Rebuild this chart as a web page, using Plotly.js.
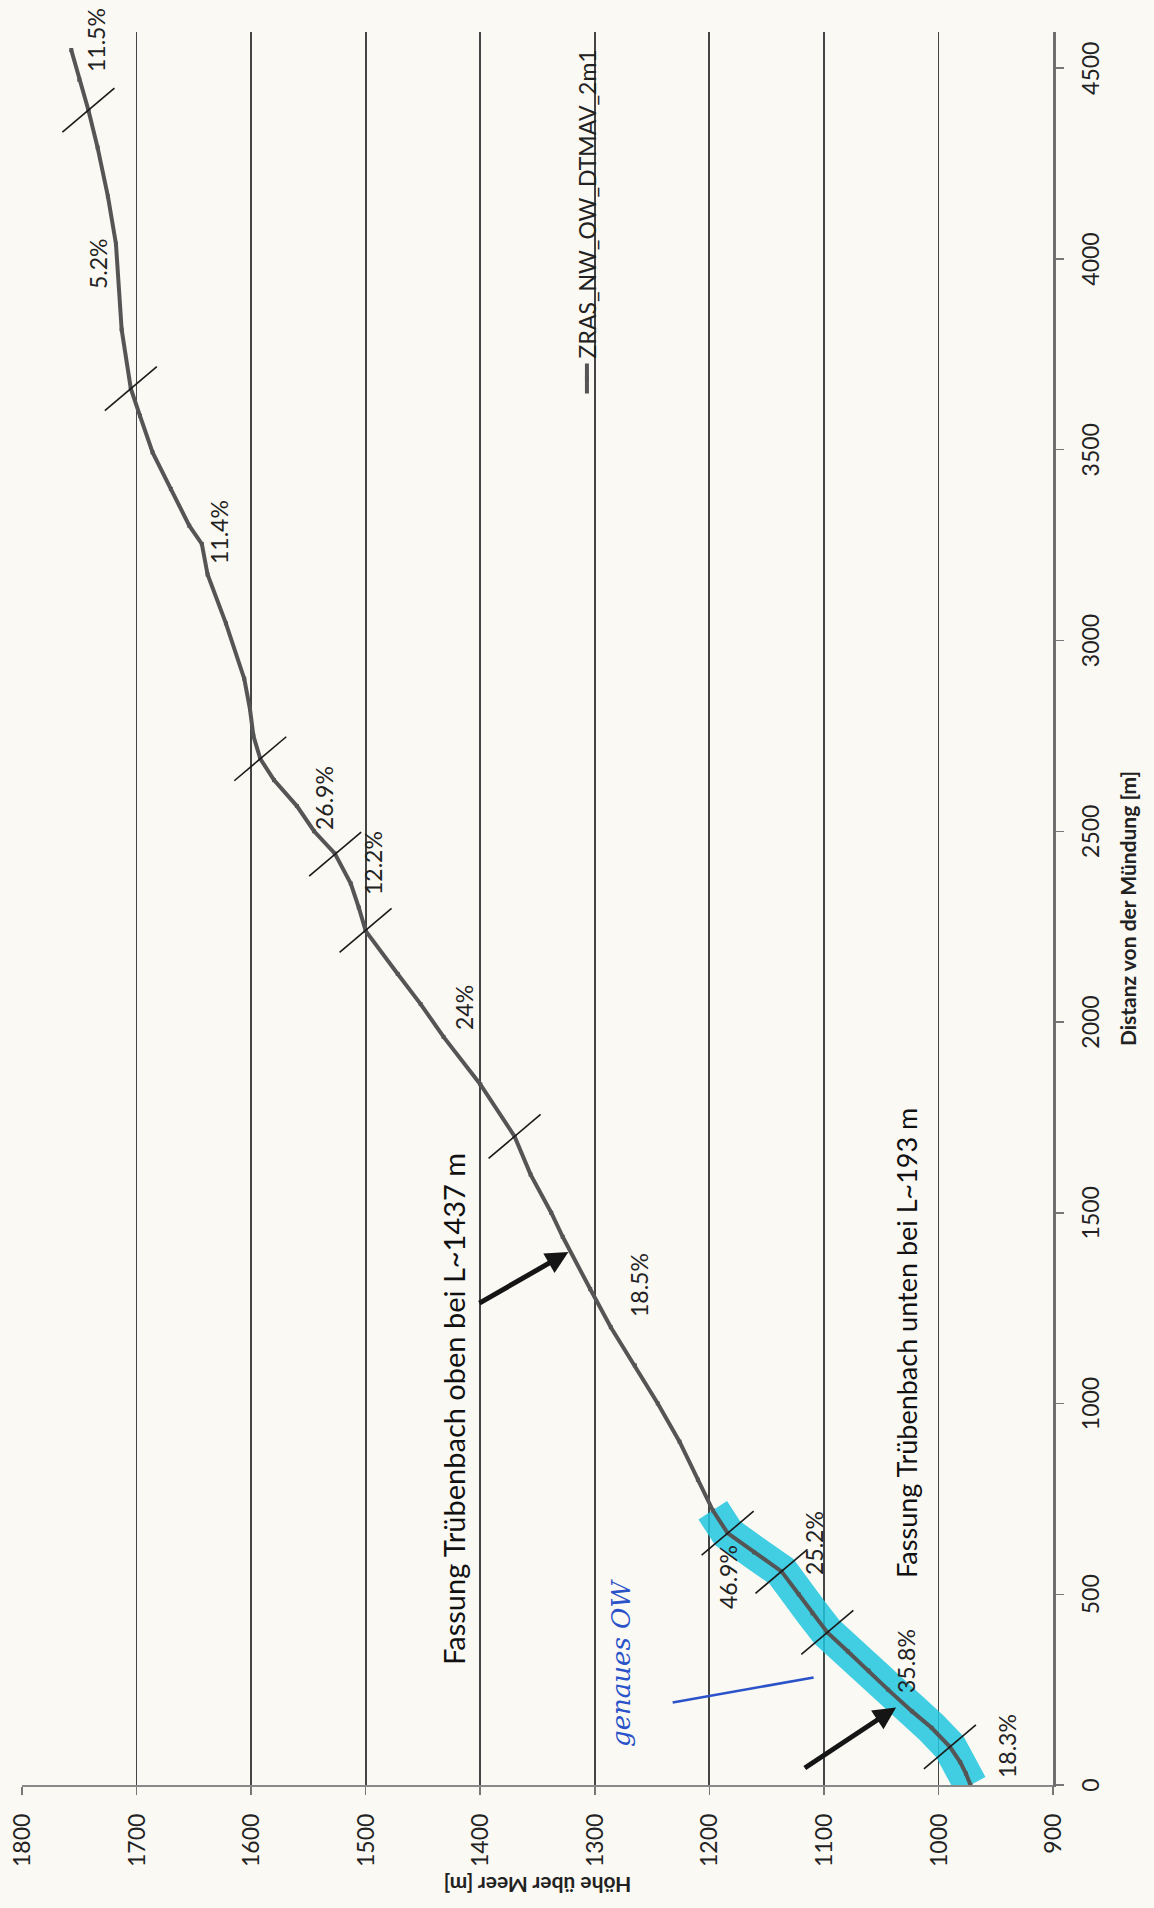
<!DOCTYPE html>
<html>
<head>
<meta charset="utf-8">
<script src="https://cdn.plot.ly/plotly-3.0.1.min.js"></script>
<style>
  html, body { margin: 0; padding: 0; width: 1154px; height: 1908px; overflow: hidden; background: #fbf9f4; }
  /* the profile is laid out landscape and turned a quarter turn to fit the portrait page */
  #chart { position: absolute; left: 0; top: 0; width: 1908px; height: 1154px;
           transform-origin: 0 0; transform: translateY(1908px) rotate(-90deg); }
</style>
</head>
<body>
<div id="chart"></div>
<script>
// Längenprofil: Distanz von der Mündung [m] und Höhe über Meer [m]
const distance = [0, 30, 60, 100, 150, 193, 250, 300, 350, 400, 450, 500, 560, 610, 660, 720,
  800, 900, 1000, 1100, 1200, 1300, 1437, 1500, 1600, 1700, 1837, 1961, 2047, 2126, 2239,
  2300, 2363, 2442, 2500, 2566, 2634, 2690, 2750, 2820, 2900, 3045, 3173, 3253, 3301, 3397,
  3493, 3589, 3660, 3815, 4040, 4164, 4292, 4390, 4470, 4548];
const elevation = [972, 976, 981, 990, 1006, 1023, 1044, 1061, 1079, 1097, 1110, 1122, 1137, 1161, 1184, 1197,
  1210, 1226, 1245, 1265, 1286, 1304, 1328, 1338, 1356, 1370, 1400, 1432, 1452, 1472, 1500,
  1506, 1513, 1527, 1545, 1560, 1580, 1592, 1598, 1601, 1606, 1622, 1638, 1643, 1654, 1670,
  1686, 1697, 1705, 1713, 1718, 1725, 1734, 1742, 1750, 1757];

// Gefällswechsel (Distanz) und Gefälle der Abschnitte
const gradeBreaks = [100, 400, 560, 660, 1700, 2240, 2440, 2690, 3660, 4390];
const gradeLabels = ['18.3%', '35.8%', '25.2%', '46.9%', '18.5%', '24%', '12.2%', '26.9%', '11.4%', '5.2%', '11.5%'];

// Fassungen
const intakeLower = 193;
const intakeUpper = 1437;
const highlightEnd = 730;

const seriesName = 'ZRAS_NW_OW_DTMAV_2m1';

function elevAt(d) {
  for (let i = 1; i < distance.length; i++) {
    if (d <= distance[i]) {
      const t = (d - distance[i - 1]) / (distance[i] - distance[i - 1]);
      return elevation[i - 1] + t * (elevation[i] - elevation[i - 1]);
    }
  }
  return elevation[elevation.length - 1];
}

const FONT = 'Lato, "Open Sans", sans-serif';
const INK = '#222222';

const hiX = distance.filter(d => d <= highlightEnd);
const hiY = elevation.slice(0, hiX.length);

const traces = [
  {
    x: hiX, y: hiY, mode: 'lines', showlegend: false, hoverinfo: 'skip',
    line: { color: 'rgba(32,198,222,0.85)', width: 34 }
  },
  {
    x: distance, y: elevation, mode: 'lines+markers', name: seriesName,
    line: { color: '#555555', width: 4 },
    marker: { color: '#555555', size: 4, symbol: 'square' }
  }
];

// positions of the slope labels (distance, elevation)
const gradeLabelPos = [[103, 940], [326, 1028], [634, 1109], [545, 1184], [1311, 1261], [2039, 1414],
  [2416, 1494], [2587, 1536], [3284, 1628], [3989, 1734], [4575, 1735]];

const annotations = gradeLabels.map((t, i) => ({
  x: gradeLabelPos[i][0], y: gradeLabelPos[i][1], xref: 'x', yref: 'y',
  text: t, showarrow: false, font: { family: FONT, size: 23, color: INK }
}));

annotations.push(
  {
    x: 1158, y: 1028, xref: 'x', yref: 'y', showarrow: false,
    text: 'Fassung Trübenbach unten bei L~' + intakeLower + ' m',
    font: { family: FONT, size: 27, color: '#111' }
  },
  {
    x: 985, y: 1423, xref: 'x', yref: 'y', showarrow: false,
    text: 'Fassung Trübenbach oben bei L~' + intakeUpper + ' m',
    font: { family: FONT, size: 29, color: '#111' }
  },
  {
    x: intakeLower + 10, y: elevAt(intakeLower) + 14, xref: 'x', yref: 'y',
    ax: 42, ay: 1118, axref: 'x', ayref: 'y', text: '', showarrow: true,
    arrowhead: 2, arrowsize: 0.9, arrowwidth: 5, arrowcolor: '#151515'
  },
  {
    x: intakeUpper - 40, y: elevAt(intakeUpper - 40) + 2, xref: 'x', yref: 'y',
    ax: 1261, ay: 1402, axref: 'x', ayref: 'y', text: '', showarrow: true,
    arrowhead: 2, arrowsize: 0.9, arrowwidth: 5, arrowcolor: '#151515'
  },
  {
    x: 321, y: 1277, xref: 'x', yref: 'y', showarrow: false, textangle: 0,
    text: 'genaues OW',
    font: { family: '"DejaVu Serif", serif', size: 26, color: '#2a52c9', style: 'italic' }
  }
);

// short hand-drawn strokes across the profile at each change of slope
const shapes = gradeBreaks.map(d => ({
  type: 'line', xref: 'x', yref: 'y', xsizemode: 'pixel', ysizemode: 'pixel',
  xanchor: d, yanchor: elevAt(d), x0: -22, x1: 22, y0: 26, y1: -26,
  line: { color: '#1a1a1a', width: 1.6 }
}));
shapes.push({
  type: 'line', xref: 'x', yref: 'y', x0: 216, y0: 1232, x1: 282, y1: 1109,
  line: { color: '#2a52c9', width: 2.5 }
});

const layout = {
  width: 1908, height: 1154,
  margin: { l: 123, r: 32, t: 22, b: 101 },
  paper_bgcolor: 'rgba(0,0,0,0)', plot_bgcolor: 'rgba(0,0,0,0)',
  font: { family: FONT, size: 23, color: INK },
  showlegend: true,
  legend: {
    x: 0.791, y: 0.452, xanchor: 'left', yanchor: 'middle',
    bgcolor: 'rgba(0,0,0,0)', font: { family: FONT, size: 23, color: INK }, itemwidth: 30
  },
  xaxis: {
    range: [0, 4595], tickvals: [0, 500, 1000, 1500, 2000, 2500, 3000, 3500, 4000, 4500],
    showgrid: false, zeroline: false, showline: true, linecolor: '#6f6f6f', linewidth: 2.5,
    ticks: 'outside', ticklen: 8, tickcolor: '#777', tickwidth: 1.5, ticklabelstandoff: 8,
    tickfont: { family: FONT, size: 23, color: INK },
    title: { text: 'Distanz von der Mündung [m]', standoff: 18,
             font: { family: FONT, size: 21, color: INK, weight: 'bold' } }
  },
  yaxis: {
    range: [900, 1800], dtick: 100, tick0: 900,
    showgrid: true, gridcolor: '#444', gridwidth: 1.7, zeroline: false,
    showline: true, linecolor: '#888', linewidth: 2,
    ticks: 'outside', ticklen: 8, tickcolor: '#777', tickwidth: 1.5, ticklabelstandoff: 14,
    tickfont: { family: FONT, size: 23, color: INK },
    title: { text: 'Höhe über Meer [m]', standoff: 4,
             font: { family: FONT, size: 21, color: INK, weight: 'bold' } }
  },
  annotations: annotations,
  shapes: shapes
};

Plotly.newPlot('chart', traces, layout, { displayModeBar: false, staticPlot: true });
</script>
</body>
</html>
